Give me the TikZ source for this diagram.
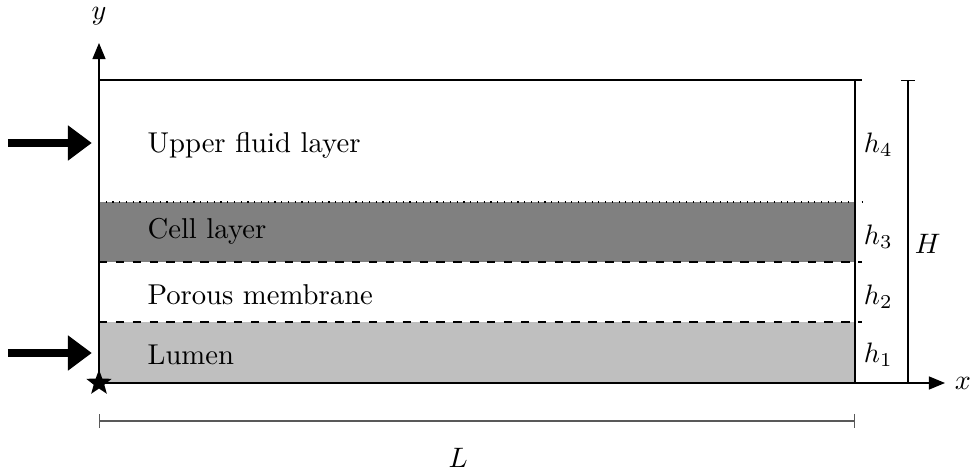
\documentclass[tikz,border=0pt]{standalone}
\usepackage{amsmath}
\usepackage{tikz}
\usetikzlibrary{shapes.geometric, arrows.meta, positioning, calc}

\begin{document}
\begin{tikzpicture}[>=Stealth]
        % Style definitions
        \tikzstyle{layertext} = [anchor=west, inner sep=0pt, scale=1.02]
        \tikzstyle{hlabel} = [inner sep=1pt]
        \tikzstyle{inflow} = [-{Triangle[length=8.5pt, width=12pt]}, line width=2.8pt]
        \tikzstyle{axis} = [-{Triangle[length=5.7pt, width=4.6pt]}, line width=0.5pt]
        \tikzstyle{dimline} = [{Bar[width=5pt]}-{Bar[width=5pt]}, draw=black!65, line width=0.5pt]

        \useasboundingbox (-1.2375,-1.1125) rectangle (10.9,4.7875);

        % Layers
        \fill [gray!50] (0,0) rectangle (9.45,0.7625);
        \fill [gray] (0,1.5125) rectangle (9.45,2.2625);
        \draw (0,3.7875) -- (9.54,3.7875);
        \draw [dotted] (0,2.2625) -- (9.54,2.2625);
        \draw [dashed] (0,1.5125) -- (9.54,1.5125);
        \draw [dashed] (0,0.7625) -- (9.54,0.7625);
        \draw (9.45,0) -- (9.45,3.7875);
        \draw [line width=0.8pt] (0,0) -- (9.45,0);

        % Axes
        \coordinate (origin) at (0,0);
        \coordinate (xend) at (10.575,0);
        \coordinate (yend) at (0,4.25);
        \draw [axis] (origin) -- (xend);
        \draw [axis] (origin) -- (yend);
        \node (xlab) at (10.8,0) {$x$};
        \node [inner sep=1pt] (ylab) at (0,4.59) {$y$};
        \node [star, star points=5, star point ratio=2.4, fill=black, minimum size=9.5pt, inner sep=0pt] (corner) at (origin) {};

        % Layer names
        \node [layertext] (upper) at (0.6,2.975) {Upper fluid layer};
        \node [layertext] (cell) at (0.6,1.89) {Cell layer};
        \node [layertext] (membrane) at (0.6,1.1) {Porous membrane};
        \node [layertext] (lumen) at (0.6,0.35) {Lumen};

        % Inflow arrows
        \coordinate (upin) at (-1.14,3.0);
        \coordinate (upout) at (-0.09,3.0);
        \coordinate (lowin) at (-1.14,0.375);
        \coordinate (lowout) at (-0.09,0.375);
        \draw [inflow] (upin) -- (upout);
        \draw [inflow] (lowin) -- (lowout);

        % Heights
        \node [hlabel] (h4) at (9.74,2.98) {$h_4$};
        \node [hlabel] (h3) at (9.74,1.83) {$h_3$};
        \node [hlabel] (h2) at (9.74,1.075) {$h_2$};
        \node [hlabel] (h1) at (9.74,0.35) {$h_1$};
        \coordinate (Hbot) at (10.11,0);
        \coordinate (Htop) at (10.11,3.7875);
        \draw [dimline, draw=black] (Hbot) -- (Htop);
        \node (Hlab) at (10.36,1.74) {$H$};

        % Length
        \coordinate (Lleft) at (0,-0.475);
        \coordinate (Lright) at (9.45,-0.475);
        \draw [dimline] (Lleft) -- (Lright);
        \node (Llab) at (4.49,-0.93) {$L$};
\end{tikzpicture}
\end{document}
